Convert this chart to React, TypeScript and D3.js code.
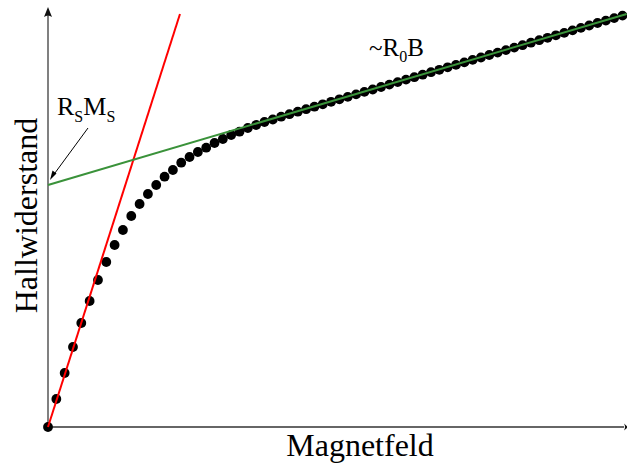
import React from "react";
import * as d3 from "d3";

const W = 627;
const H = 466;

// Magnetic field index (B, arbitrary units) and Hall resistance (arbitrary units)
const fieldB: number[] = Array.from({ length: 70 }, (_, i) => i);
const hallR: number[] = [
  0, 28, 54, 80, 104, 126, 147, 165, 182, 197,
  211, 223, 233, 242, 250.3, 257, 264.3, 270, 275, 279.3,
  284, 288, 292, 295.3, 299, 302, 305, 307.5, 310.3, 312.8,
  315.3, 317.8, 320.3, 322.7, 325.2, 327.7, 330.1, 332.6, 335.1, 337.5,
  340, 342.4, 344.9, 347.4, 349.8, 352.3, 354.8, 357.2, 359.7, 362.1,
  364.6, 367.1, 369.5, 372, 374.4, 376.9, 379.4, 381.8, 384.3, 386.8,
  389.2, 391.7, 394.1, 396.6, 399.1, 401.5, 404, 406.4, 408.9, 411.4,
];
// low-field fit (red) and high-field fit (green)
const lowFitB: number[] = [0, 15.85];
const lowFitR: number[] = [0, 413];
const highFitB: number[] = [0, 69.5];
const highFitR: number[] = [242, 413];

const xLabel = "Magnetfeld";
const yLabel = "Hallwiderstand";

export default function App() {
  const x = d3.scaleLinear().domain([0, 69.3]).range([48, 625]);
  const y = d3.scaleLinear().domain([0, 420]).range([427, 7]);
  const line = d3
    .line<[number, number]>()
    .x((d) => x(d[0]))
    .y((d) => y(d[1]));
  const red = line(lowFitB.map((b, i) => [b, lowFitR[i]] as [number, number]))!;
  const green = line(highFitB.map((b, i) => [b, highFitR[i]] as [number, number]))!;
  const serif = "'Liberation Serif', 'Times New Roman', serif";
  const x0 = x(0);
  const y0 = y(0);
  return (
    <svg
      width={W}
      height={H}
      style={{ position: "absolute", left: 0, top: 0, background: "#fff" }}
      fontFamily={serif}
    >
      {/* axes */}
      <line x1={x0} y1={y0} x2={x0} y2={10} stroke="#808080" strokeWidth={2} />
      <path d={`M${x0},7 L${x0 - 4},17 Q${x0},14 ${x0 + 4},17 Z`} fill="#111" />
      <line x1={x0} y1={y0} x2={624} y2={y0} stroke="#333" strokeWidth={1.6} />
      <path d={`M628,${y0} L624,${y0 - 3.5} Q626,${y0} 624,${y0 + 3.5} Z`} fill="#111" />

      {/* data */}
      {fieldB.map((b, i) => (
        <circle key={i} cx={x(b)} cy={y(hallR[i])} r={4.9} fill="#000" />
      ))}
      <path d={red} stroke="#ff0000" strokeWidth={2} fill="none" />
      <path d={green} stroke="#3a923a" strokeWidth={2} fill="none" />

      {/* annotation arrow */}
      <line x1={88} y1={128} x2={52} y2={177} stroke="#000" strokeWidth={1} />
      <path d="M50,180 L52.5,170.5 L56.5,173.5 Z" fill="#000" />

      {/* labels */}
      <text x={57} y={115} fontSize={26} fill="#000">
        R<tspan fontSize={16} dy={7}>S</tspan>
        <tspan dy={-7}>M</tspan>
        <tspan fontSize={16} dy={7}>S</tspan>
      </text>
      <text x={369} y={56} fontSize={25} fill="#000">
        ~R<tspan fontSize={16} dy={6}>0</tspan>
        <tspan dy={-6}>B</tspan>
      </text>
      <text x={360} y={456} fontSize={32} textAnchor="middle" fill="#000">
        {xLabel}
      </text>
      <text
        transform={`translate(37,215.5) rotate(-90)`}
        fontSize={32}
        textAnchor="middle"
        fill="#000"
      >
        {yLabel}
      </text>
    </svg>
  );
}
